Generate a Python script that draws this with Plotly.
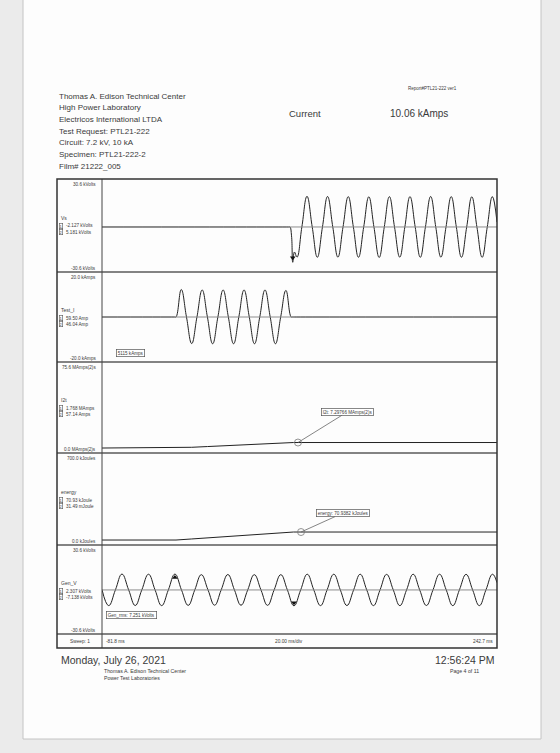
import plotly.graph_objects as go

time_vs = [-81.8, 71.4, 72.6, 73.9, 74.9, 76.3, 78.4,
           82.4, 86.6, 90.9, 95.1, 99.3, 103.5, 107.8, 112.0, 116.2, 120.5,
           124.7, 128.9, 133.2, 137.4, 141.6, 145.9, 150.1, 154.3, 158.5, 162.8,
           167.0, 171.2, 175.5, 179.7, 183.9, 188.2, 192.4, 196.6, 200.8, 205.1,
           209.3, 213.5, 217.8, 222.0, 226.2, 230.5, 234.7, 238.9, 242.7]
vs_kv = [0, 0, 0, -6, -24, -17, -20.5,
         0, 20.8, 0, -20.6, 0, 20.7, 0, -20.5, 0, 20.6,
         0, -20.6, 0, 20.5, 0, -20.7, 0, 20.6, 0, -20.5,
         0, 20.6, 0, -20.6, 0, 20.7, 0, -20.5, 0, 20.6,
         0, -20.6, 0, 20.5, 0, -20.6, 0, 20.6, 3.3]

time_i = [-81.8, -22.3, -21.0, -16.7, -12.4, -8.1, -3.8, 0.5, 4.8, 9.1, 13.4, 17.7,
          22.0, 26.3, 30.6, 34.9, 39.2, 43.5, 47.8, 52.1, 56.4, 60.7, 65.0,
          69.3, 73.6, 74.9, 76.2, 242.7]
test_i_ka = [0, 0, 0, 12.2, 0, -11.8, 0, 12.0, 0, -11.9, 0, 12.0,
             0, -11.9, 0, 12.0, 0, -11.9, 0, 12.0, 0, -11.9, 0,
             11.8, 0, 0, 0, 0]

time_int = [-81.8, -21.0, -8.1, 4.8, 17.7, 30.6, 43.5, 56.4, 69.3, 75.5, 242.7]
i2t_ma2s = [0, 0, 0.98, 1.96, 2.93, 3.91, 4.89, 5.86, 6.84, 7.30, 7.30]
energy_kj = [0, 0, 9.5, 19.0, 28.4, 37.9, 47.4, 56.9, 66.4, 70.9, 70.9]

time_gen = [-81.8, -76.3, -70.8, -65.4, -59.9, -54.5, -49.1, -43.6, -38.2, -32.8,
            -27.3, -21.9, -16.5, -11.0, -5.6, -0.2, 5.3, 10.7, 16.1, 21.6,
            27.0, 32.4, 37.9, 43.3, 48.8, 54.2, 59.6, 65.1, 70.5, 75.9,
            81.4, 86.8, 92.2, 97.7, 103.1, 108.6, 114.0, 119.4, 124.9, 130.3,
            135.7, 141.2, 146.6, 152.0, 157.5, 162.9, 168.4, 173.8, 179.2, 184.7,
            190.1, 195.5, 201.0, 206.4, 211.8, 217.3, 222.7, 228.2, 233.6, 239.0,
            242.7]
gen_v_kv = [0.2, -10.8, 0, 10.9, 0, -10.7, 0, 10.8, 0, -10.8,
            0, 10.9, 0, -10.6, 0, 10.5, 0, -10.5, 0, 10.6,
            0, -10.5, 0, 10.5, 0, -10.6, 0, 10.5, 0, -10.9,
            0, 10.8, 0, -10.8, 0, 10.8, 0, -10.7, 0, 10.8,
            0, -10.8, 0, 10.7, 0, -10.8, 0, 10.8, 0, -10.7,
            0, 10.8, 0, -10.8, 0, 10.7, 0, -10.8, 0, 10.8,
            5.0]

# cursor markers
cursor_vs_t, cursor_vs_v = [74.9], [-21.0]
cursor_gen_t, cursor_gen_v = [-21.9, 75.9], [8.6, -8.8]
meas_i2t_t, meas_i2t_v = [79.2], [7.30]
meas_en_t, meas_en_v = [81.7], [70.9]

channel_names = ["Vs", "Test_I", "I2t", "energy", "Gen_V"]
top_labels = ["30.6 kVolts", "20.0 kAmps", "75.6 MAmps(2)s", "700.0 kJoules", "30.6 kVolts"]
bottom_labels = ["-30.6 kVolts", "-20.0 kAmps", "0.0 MAmps(2)s", "0.0 kJoules", "-30.6 kVolts"]
cursor1_labels = ["-2.127 kVolts", "59.50 Amp", "1.768 MAmps", "70.93 kJoule", "2.307 kVolts"]
cursor2_labels = ["5.181 kVolts", "46.04 Amp", "57.14 Amps", "31.49 mJoule", "-7.138 kVolts"]

x_start_label, x_div_label, x_end_label = "-81.8 ms", "20.00 ms/div", "242.7 ms"
x_range = [-81.8, 242.7]

header_lines = ["Thomas A. Edison Technical Center", "High Power Laboratory",
                "Electricos International LTDA", "Test Request: PTL21-222",
                "Circuit: 7.2 kV, 10 kA", "Specimen: PTL21-222-2", "Film# 21222_005"]

# ---------------- layout helpers ----------------
W, H = 560, 753
def px(x): return x / W
def py(y): return 1 - y / H

FONT = "Liberation Sans"
TXT = "#3a3a3a"
LEFT, X0, X1 = 57, 102, 497
TOP, BOTTOM = 179, 648
bands = [(179, 272), (272, 362), (362, 453), (453, 545), (545, 634)]
y_ranges = [[-30.6, 32.6], [-20, 20], [-6.6, 114.2], [-44, 771], [-30.3, 30.9]]

fig = go.Figure()
line_style = dict(color="#222222", width=1)

def add_line(t, v, ax, shape="spline"):
    fig.add_trace(go.Scatter(x=t, y=v, mode="lines", yaxis=ax,
                             line=dict(**line_style, shape=shape, smoothing=1.25),
                             hoverinfo="skip", showlegend=False))

add_line(time_vs, vs_kv, "y")
add_line(time_i, test_i_ka, "y2")
add_line(time_int, i2t_ma2s, "y3", "linear")
add_line(time_int, energy_kj, "y4", "linear")
add_line(time_gen, gen_v_kv, "y5")

fig.add_trace(go.Scatter(x=cursor_vs_t, y=cursor_vs_v, mode="markers", yaxis="y",
                         marker=dict(symbol="triangle-down", size=5, color="#111"),
                         hoverinfo="skip", showlegend=False))
fig.add_trace(go.Scatter(x=cursor_gen_t, y=cursor_gen_v, mode="markers", yaxis="y5",
                         marker=dict(symbol=["triangle-up", "triangle-down"], size=5, color="#111"),
                         hoverinfo="skip", showlegend=False))
for t, v, ax in [(meas_i2t_t, meas_i2t_v, "y3"), (meas_en_t, meas_en_v, "y4")]:
    fig.add_trace(go.Scatter(x=t, y=v, mode="markers", yaxis=ax,
                             marker=dict(symbol="circle-open", size=7,
                                         color="#777", line=dict(width=0.8)),
                             hoverinfo="skip", showlegend=False))

layout = dict(
    width=W, height=H, margin=dict(l=0, r=0, t=0, b=0),
    paper_bgcolor="#ebebeb", plot_bgcolor="rgba(0,0,0,0)",
    xaxis=dict(domain=[px(X0), px(X1)], range=x_range, visible=False, fixedrange=True),
)
for i, (b0, b1) in enumerate(bands):
    key = "yaxis" if i == 0 else f"yaxis{i+1}"
    layout[key] = dict(domain=[py(b1), py(b0)], range=y_ranges[i], visible=False,
                       fixedrange=True, anchor="x")
fig.update_layout(**layout)

shapes = []
# page
shapes.append(dict(type="rect", xref="paper", yref="paper", x0=px(23), x1=px(541),
                   y0=py(739), y1=py(-2), fillcolor="#fdfdfd",
                   line=dict(color="#c4c4c4", width=1), layer="below"))
# zero lines
for ref in ["y", "y2", "y5"]:
    shapes.append(dict(type="line", xref="paper", x0=px(X0), x1=px(X1), yref=ref,
                       y0=0, y1=0, line=dict(color="#8c8c8c", width=1)))
# separators
for (b0, b1) in bands:
    shapes.append(dict(type="line", xref="paper", yref="paper", x0=px(LEFT), x1=px(X1),
                       y0=py(b1), y1=py(b1), line=dict(color="#5a5a5a", width=1.4)))
shapes.append(dict(type="line", xref="paper", yref="paper", x0=px(X0), x1=px(X0),
                   y0=py(BOTTOM), y1=py(TOP), line=dict(color="#444", width=1)))
shapes.append(dict(type="rect", xref="paper", yref="paper", x0=px(LEFT), x1=px(X1),
                   y0=py(BOTTOM), y1=py(TOP), line=dict(color="#333", width=1.5)))
fig.update_layout(shapes=shapes)

anns = []
def ann(text, x, y, size, anchor="left", color=TXT, **kw):
    d = dict(x=px(x), y=py(y), xref="paper", yref="paper", text=text, showarrow=False,
             xanchor=anchor, yanchor="middle",
             font=dict(size=size, color=color, family=FONT))
    d.update(kw)
    anns.append(d)

for i, line in enumerate(header_lines):
    ann(line, LEFT, 96 + 11.7 * i, 8)
ann("Report#PTL21-222 ver1", 432, 88, 4.5, "center")
ann("Current", 287, 114, 9.5)
ann("10.06 kAmps", 388, 114, 10)

name_y = [218, 310, 400, 492, 583]
for i, (b0, b1) in enumerate(bands):
    ann(top_labels[i], 98, b0 + 5, 4.6, "right")
    ann(bottom_labels[i], 98, b1 - 4, 4.6, "right")
    ny = name_y[i]
    ann(channel_names[i], 59, ny, 5)
    for k, lab in enumerate([cursor1_labels[i], cursor2_labels[i]]):
        yy = ny + 8 + 6.2 * k
        ann(str(k + 1), 59, yy, 4, bordercolor="#555", borderwidth=0.6, borderpad=0)
        ann(lab, 64, yy, 4.6)

box = dict(bordercolor="#555", borderwidth=0.7, borderpad=1, bgcolor="#fff")
ann("5115 kAmps", 130, 353, 4.6, "center", **box)
ann("Gen_rms: 7.251 kVolts", 131.5, 615, 4.6, "center", **box)

for t, v, ref, ax_, ay_, text in [(meas_i2t_t[0], meas_i2t_v[0], "y3", 50, -31,
                                   "I2t: 7.29766 MAmps(2)s"),
                                  (meas_en_t[0], meas_en_v[0], "y4", 42, -19,
                                   "energy: 70.9382 kJoules")]:
    anns.append(dict(x=t, y=v, xref="x", yref=ref, text=text, showarrow=True,
                     arrowhead=0, arrowwidth=0.8, arrowcolor="#666", ax=ax_, ay=ay_,
                     font=dict(size=4.6, color=TXT, family=FONT), **box))

ann("Sweep: 1", 80, 641, 4.8, "center")
ann(x_start_label, 104, 641, 4.8)
ann(x_div_label, 289, 641, 4.8, "center")
ann(x_end_label, 495, 641, 4.8, "right")

ann("Monday, July 26, 2021", 59, 660, 10.5)
ann("12:56:24 PM", 497, 660, 10.5, "right")
ann("Thomas A. Edison Technical Center", 102, 671, 5.2)
ann("Power Test Laboratories", 102, 677.5, 5.2)
ann("Page 4 of 11", 448, 671, 5.2)

fig.update_layout(annotations=anns)
fig.write_html("out.html", config={"displayModeBar": False, "staticPlot": True},
               post_script="document.body.style.margin='0';"
                           "document.body.style.background='#ebebeb';")
